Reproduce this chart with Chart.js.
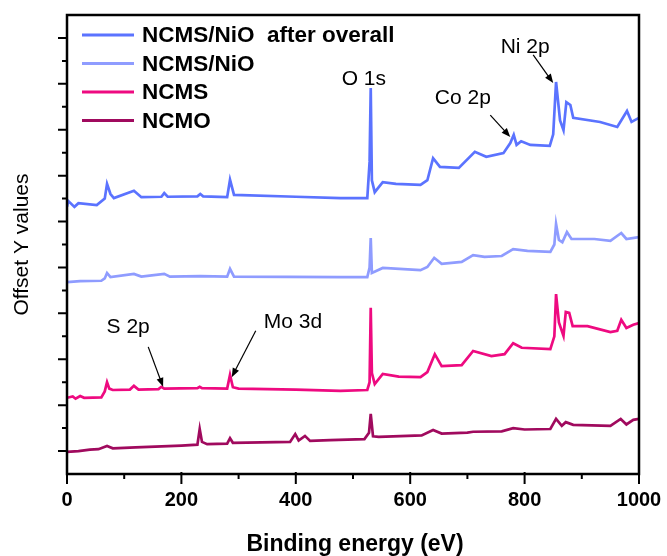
<!DOCTYPE html>
<html>
<head>
<meta charset="utf-8">
<script src="https://cdn.jsdelivr.net/npm/chart.js@4/dist/chart.umd.min.js"></script>
<style>
  html, body { margin: 0; padding: 0; background: #fff; }
  #wrap { width: 667px; height: 556px; }
</style>
</head>
<body>
<div id="wrap"><canvas id="myChart"></canvas></div>
<script>
// series names, top to bottom
const seriesNames = ['NCMS/NiO  after overall', 'NCMS/NiO', 'NCMS', 'NCMO'];

// binding energy (eV) and offset intensity
const afterEV = [0,2,13,20,52,66,70,76,82,117,130,165,170,176,228,233,238,280,285,292,400,478,525,529,531,533,538,552,575,618,630,640,652,685,713,733,763,775,781,786,794,810,844,850,855,862,868,873,880,885,932,962,979,987,1000];
const afterY  = [58.2,59.5,58.2,59.0,58.6,60.0,63.2,61.0,60.1,61.7,60.3,60.4,61.2,60.4,60.5,61.0,60.5,60.3,64.1,60.8,60.4,60.1,60.1,68.0,84.1,64.0,61.4,63.6,63.2,63.0,64.0,68.8,66.9,66.7,70.2,69.1,69.9,72.1,73.9,71.7,72.5,71.7,71.5,74.0,85.4,77.0,74.9,81.0,80.4,77.6,76.7,75.6,79.1,76.7,77.6];

const niEV = [0,23,60,66,70,76,117,130,170,180,233,280,285,292,478,525,529,531,533,552,618,630,642,655,690,710,730,760,780,805,845,852,855,860,866,874,882,922,950,969,978,1000];
const niY  = [41.8,42.0,42.1,42.6,43.8,42.9,43.6,43.0,43.6,43.0,43.1,43.0,44.7,43.0,42.9,42.9,45.0,51.4,43.8,44.9,44.4,45.1,47.1,45.8,46.2,47.7,47.3,47.5,49.0,48.6,48.4,50.0,54.5,51.0,50.5,52.7,51.2,51.2,50.8,52.5,51.2,51.6];

const ncmsEV = [0,10,15,23,30,60,66,70,74,80,110,117,125,160,165,170,228,232,236,280,285,290,300,400,478,525,529,531,533,538,552,580,618,630,643,655,690,710,742,765,780,795,845,852,855,860,868,872,878,884,910,950,962,969,978,990,1000];
const ncmsY  = [16.6,16.9,16.4,17.0,16.6,16.7,18.0,20.0,18.6,18.3,18.4,19.2,18.4,18.5,19.0,18.6,18.7,19.0,18.7,18.6,21.6,18.9,18.6,18.4,18.1,18.3,20.0,36.2,22.0,19.6,21.8,21.2,21.1,22.2,26.1,23.5,23.7,26.8,25.7,26.1,28.5,27.5,27.2,30.0,39.2,33.0,30.1,35.3,35.1,32.2,32.2,30.9,31.2,33.6,31.8,32.5,32.9];

const ncmoEV = [0,20,40,55,70,80,120,200,228,232,236,245,280,285,290,390,399,405,416,425,460,520,528,531,535,545,620,640,655,700,710,760,780,800,845,855,865,872,885,950,968,978,990,1000];
const ncmoY  = [4.8,5.0,5.3,5.4,6.1,5.6,5.8,6.2,6.4,9.8,7.0,6.5,6.6,7.8,6.8,7.0,8.7,7.3,8.3,7.2,7.4,7.6,9.0,13.1,8.2,8.1,8.4,9.6,8.8,9.0,9.2,9.3,10.0,9.7,9.8,12.0,10.5,11.3,10.7,10.5,12.0,10.8,11.8,12.0];

const seriesColors = ['#5b73ff', '#8f9cff', '#ee0a80', '#a00a5e'];

// axis ticks and labels
const xMajorTicks = [0, 200, 400, 600, 800, 1000];
const xMinorTicks = [100, 300, 500, 700, 900];
const yMajorTicks = [5, 15, 25, 35, 45, 55, 65, 75, 85, 95];
const yMinorTicks = [10, 20, 30, 40, 50, 60, 70, 80, 90];
const xTitle = 'Binding energy (eV)';
const yTitle = 'Offset Y values';

// peak labels: text spot and arrow (tail -> head), in eV / intensity units
const peakLabels = [
  { text: 'O 1s',  x: 519, y: 86.1 },
  { text: 'Ni 2p', x: 801, y: 93.0, arrow: [815, 91.3, 850, 85.2] },
  { text: 'Co 2p', x: 692, y: 81.9, arrow: [740, 78.2, 775, 73.4] },
  { text: 'S 2p',  x: 107, y: 32.0, arrow: [142, 27.7, 168, 19.0] },
  { text: 'Mo 3d', x: 395, y: 33.1, arrow: [330, 31.2, 288, 21.1] }
];

const FONT = 'Arial, "Liberation Sans", Helvetica, sans-serif';

function toPoints(xs, ys) {
  return xs.map((x, i) => ({ x: x, y: ys[i] }));
}

const allData = [
  toPoints(afterEV, afterY),
  toPoints(niEV, niY),
  toPoints(ncmsEV, ncmsY),
  toPoints(ncmoEV, ncmoY)
];

// axes (ticks, labels, titles), frame, legend and peak labels
const decor = {
  id: 'decor',
  afterDraw(chart) {
    const { ctx, chartArea: a, scales: { x, y } } = chart;
    ctx.save();
    ctx.strokeStyle = '#000';
    ctx.fillStyle = '#000';
    ctx.lineCap = 'butt';

    // ticks
    ctx.lineWidth = 2;
    ctx.beginPath();
    xMajorTicks.forEach(v => { const px = x.getPixelForValue(v); ctx.moveTo(px, a.bottom - 2); ctx.lineTo(px, a.bottom + 10); });
    xMinorTicks.forEach(v => { const px = x.getPixelForValue(v); ctx.moveTo(px, a.bottom); ctx.lineTo(px, a.bottom + 5); });
    yMajorTicks.forEach(v => { const py = y.getPixelForValue(v); ctx.moveTo(a.left, py); ctx.lineTo(a.left - 9, py); });
    yMinorTicks.forEach(v => { const py = y.getPixelForValue(v); ctx.moveTo(a.left, py); ctx.lineTo(a.left - 5, py); });
    ctx.stroke();

    // frame
    ctx.lineWidth = 2.5;
    ctx.strokeRect(a.left, a.top, a.right - a.left, a.bottom - a.top);

    // x tick labels
    ctx.font = 'bold 20px ' + FONT;
    ctx.textAlign = 'center';
    ctx.textBaseline = 'middle';
    xMajorTicks.forEach(v => ctx.fillText(String(v), x.getPixelForValue(v), a.bottom + 26));

    // axis titles
    ctx.font = 'bold 23px ' + FONT;
    ctx.fillText(xTitle, (a.left + a.right) / 2 + 2, 545);
    ctx.save();
    ctx.translate(22, (a.top + a.bottom) / 2);
    ctx.rotate(-Math.PI / 2);
    ctx.font = '21px ' + FONT;
    ctx.fillText(yTitle, 0, 0);
    ctx.restore();

    // legend
    chart.data.datasets.forEach((ds, i) => {
      const ly = a.top + 20 + i * 28.5;
      ctx.strokeStyle = ds.borderColor;
      ctx.lineWidth = 3;
      ctx.beginPath();
      ctx.moveTo(a.left + 15, ly);
      ctx.lineTo(a.left + 67, ly);
      ctx.stroke();
      ctx.font = 'bold 22.5px ' + FONT;
      ctx.textAlign = 'left';
      ctx.fillText(ds.label, a.left + 75, ly + 1);
    });

    // peak labels
    ctx.strokeStyle = '#000';
    ctx.font = '21px ' + FONT;
    ctx.textAlign = 'center';
    peakLabels.forEach(p => {
      ctx.fillText(p.text, x.getPixelForValue(p.x), y.getPixelForValue(p.y));
      if (p.arrow) {
        const x1 = x.getPixelForValue(p.arrow[0]), y1 = y.getPixelForValue(p.arrow[1]);
        const x2 = x.getPixelForValue(p.arrow[2]), y2 = y.getPixelForValue(p.arrow[3]);
        const ang = Math.atan2(y2 - y1, x2 - x1);
        const c = Math.cos(ang), s = Math.sin(ang);
        ctx.lineWidth = 1.2;
        ctx.beginPath();
        ctx.moveTo(x1, y1);
        ctx.lineTo(x2 - 6 * c, y2 - 6 * s);
        ctx.stroke();
        ctx.beginPath();
        ctx.moveTo(x2, y2);
        ctx.lineTo(x2 - 9 * c + 3.5 * s, y2 - 9 * s - 3.5 * c);
        ctx.lineTo(x2 - 9 * c - 3.5 * s, y2 - 9 * s + 3.5 * c);
        ctx.closePath();
        ctx.fill();
      }
    });
    ctx.restore();
  }
};

let ctx = document.getElementById('myChart').getContext('2d');
window.chart = new Chart(ctx, {
  type: 'line',
  data: {
    datasets: seriesNames.map((name, i) => ({
      label: name,
      data: allData[i],
      borderColor: seriesColors[i],
      backgroundColor: seriesColors[i],
      borderWidth: 2.7,
      pointRadius: 0,
      tension: 0,
      fill: false
    }))
  },
  plugins: [decor],
  options: {
    responsive: true,
    maintainAspectRatio: false,
    animation: false,
    // plot box: left 67, top 15, right 639, bottom 474
    layout: { padding: { top: 15, right: 28, left: 67, bottom: 82 } },
    plugins: {
      legend: { display: false },
      tooltip: { enabled: false }
    },
    scales: {
      x: { type: 'linear', min: 0, max: 1000, display: false },
      y: { min: 0, max: 100, display: false }
    }
  }
});
</script>
</body>
</html>
